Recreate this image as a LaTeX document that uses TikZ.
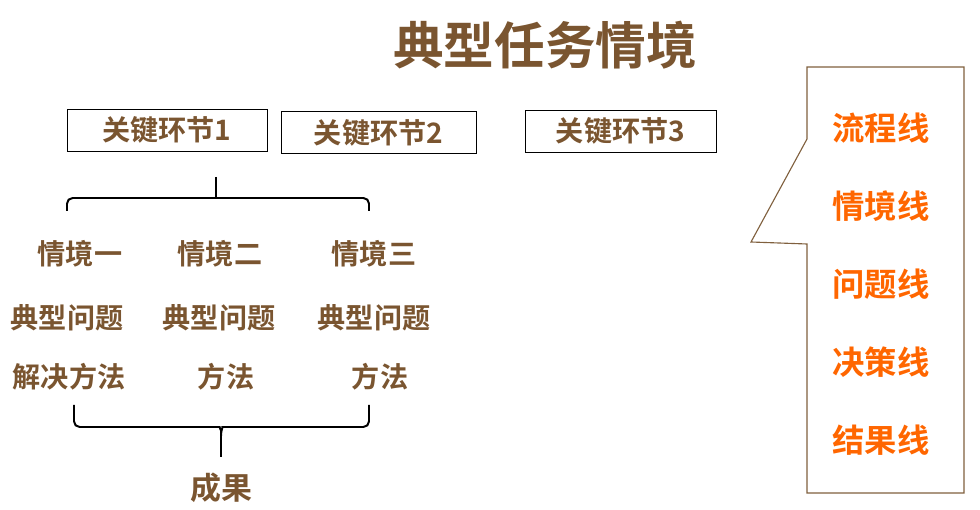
\documentclass[tikz,border=0pt]{standalone}
\usepackage{fontspec}
\newfontfamily\cjk{Noto Sans CJK SC}[BoldFont={Noto Sans CJK SC Bold}]
\usepackage{xcolor}
\usetikzlibrary{positioning}
\definecolor{brownText}{RGB}{122,85,48}
\definecolor{orangeText}{RGB}{255,102,0}
\definecolor{calloutLine}{RGB}{128,96,62}
\tikzset{
  keybox/.style={draw=black,line width=0.6pt,minimum width=5cm,minimum height=1.05cm,inner sep=0pt,
    font=\cjk\bfseries\fontsize{20}{24}\selectfont,text=brownText},
  item/.style={inner sep=0pt,font=\cjk\bfseries\fontsize{20}{24}\selectfont,text=brownText},
  lineitem/.style={inner sep=0pt,font=\cjk\bfseries\fontsize{23}{27}\selectfont,text=orangeText},
  bracket/.style={line width=1.4pt,rounded corners=4pt}
}
\begin{document}
\begin{tikzpicture}[x=0.025cm,y=-0.025cm]
  \useasboundingbox (0,0) rectangle (980,510);
  % title
  \node[inner sep=0pt,font=\cjk\bfseries\fontsize{36}{40}\selectfont,text=brownText] (title) at (545,45) {典型任务情境};
  % key steps
  \node[keybox] (key1) at (167,130) {关键环节1};
  \node[keybox,minimum width=4.875cm] (key2) at (378.5,132.5) {关键环节2};
  \node[keybox,minimum width=4.775cm] (key3) at (620.5,131) {关键环节3};
  % upper bracket
  \coordinate (ubL) at (67,211);
  \coordinate (ubR) at (369,211);
  \coordinate (ubTop) at (216,177);
  \draw[bracket] (ubL) -- (ubL |- 0,198) -- (ubR |- 0,198) -- (ubR);
  \draw[line width=1.4pt] (ubTop) -- (ubTop |- 0,198);
  % scenarios
  \node[item] (sit1) at (80,254) {情境一};
  \node[item] (sit2) at (220,254) {情境二};
  \node[item] (sit3) at (374,254) {情境三};
  \node[item] (prob1) at (67,318) {典型问题};
  \node[item] (prob2) at (219,318) {典型问题};
  \node[item] (prob3) at (374,318) {典型问题};
  \node[item] (meth1) at (69,377) {解决方法};
  \node[item] (meth2) at (226,377) {方法};
  \node[item] (meth3) at (380,377) {方法};
  % lower bracket
  \coordinate (lbL) at (74,405);
  \coordinate (lbR) at (369,405);
  \coordinate (lbBot) at (221,457);
  \draw[bracket] (lbL) -- (lbL |- 0,427) -- (214,427) .. controls (219,427) and (221,430) .. (221,436) -- (lbBot);
  \draw[bracket] (lbR) -- (lbR |- 0,427) -- (228,427) .. controls (223,427) and (221,430) .. (221,436);
  \node[inner sep=0pt,font=\cjk\bfseries\fontsize{22}{26}\selectfont,text=brownText] (result) at (221,488) {成果};
  % callout
  \draw[calloutLine,line width=0.8pt] (807,67) -- (964,67) -- (964,493) -- (807,493)
    -- (807,244) -- (751,242) -- (807,139) -- cycle;
  \node[lineitem] (line1) at (881,128) {流程线};
  \node[lineitem] (line2) at (881,206) {情境线};
  \node[lineitem] (line3) at (881,284) {问题线};
  \node[lineitem] (line4) at (881,362) {决策线};
  \node[lineitem] (line5) at (881,440) {结果线};
\end{tikzpicture}
\end{document}
